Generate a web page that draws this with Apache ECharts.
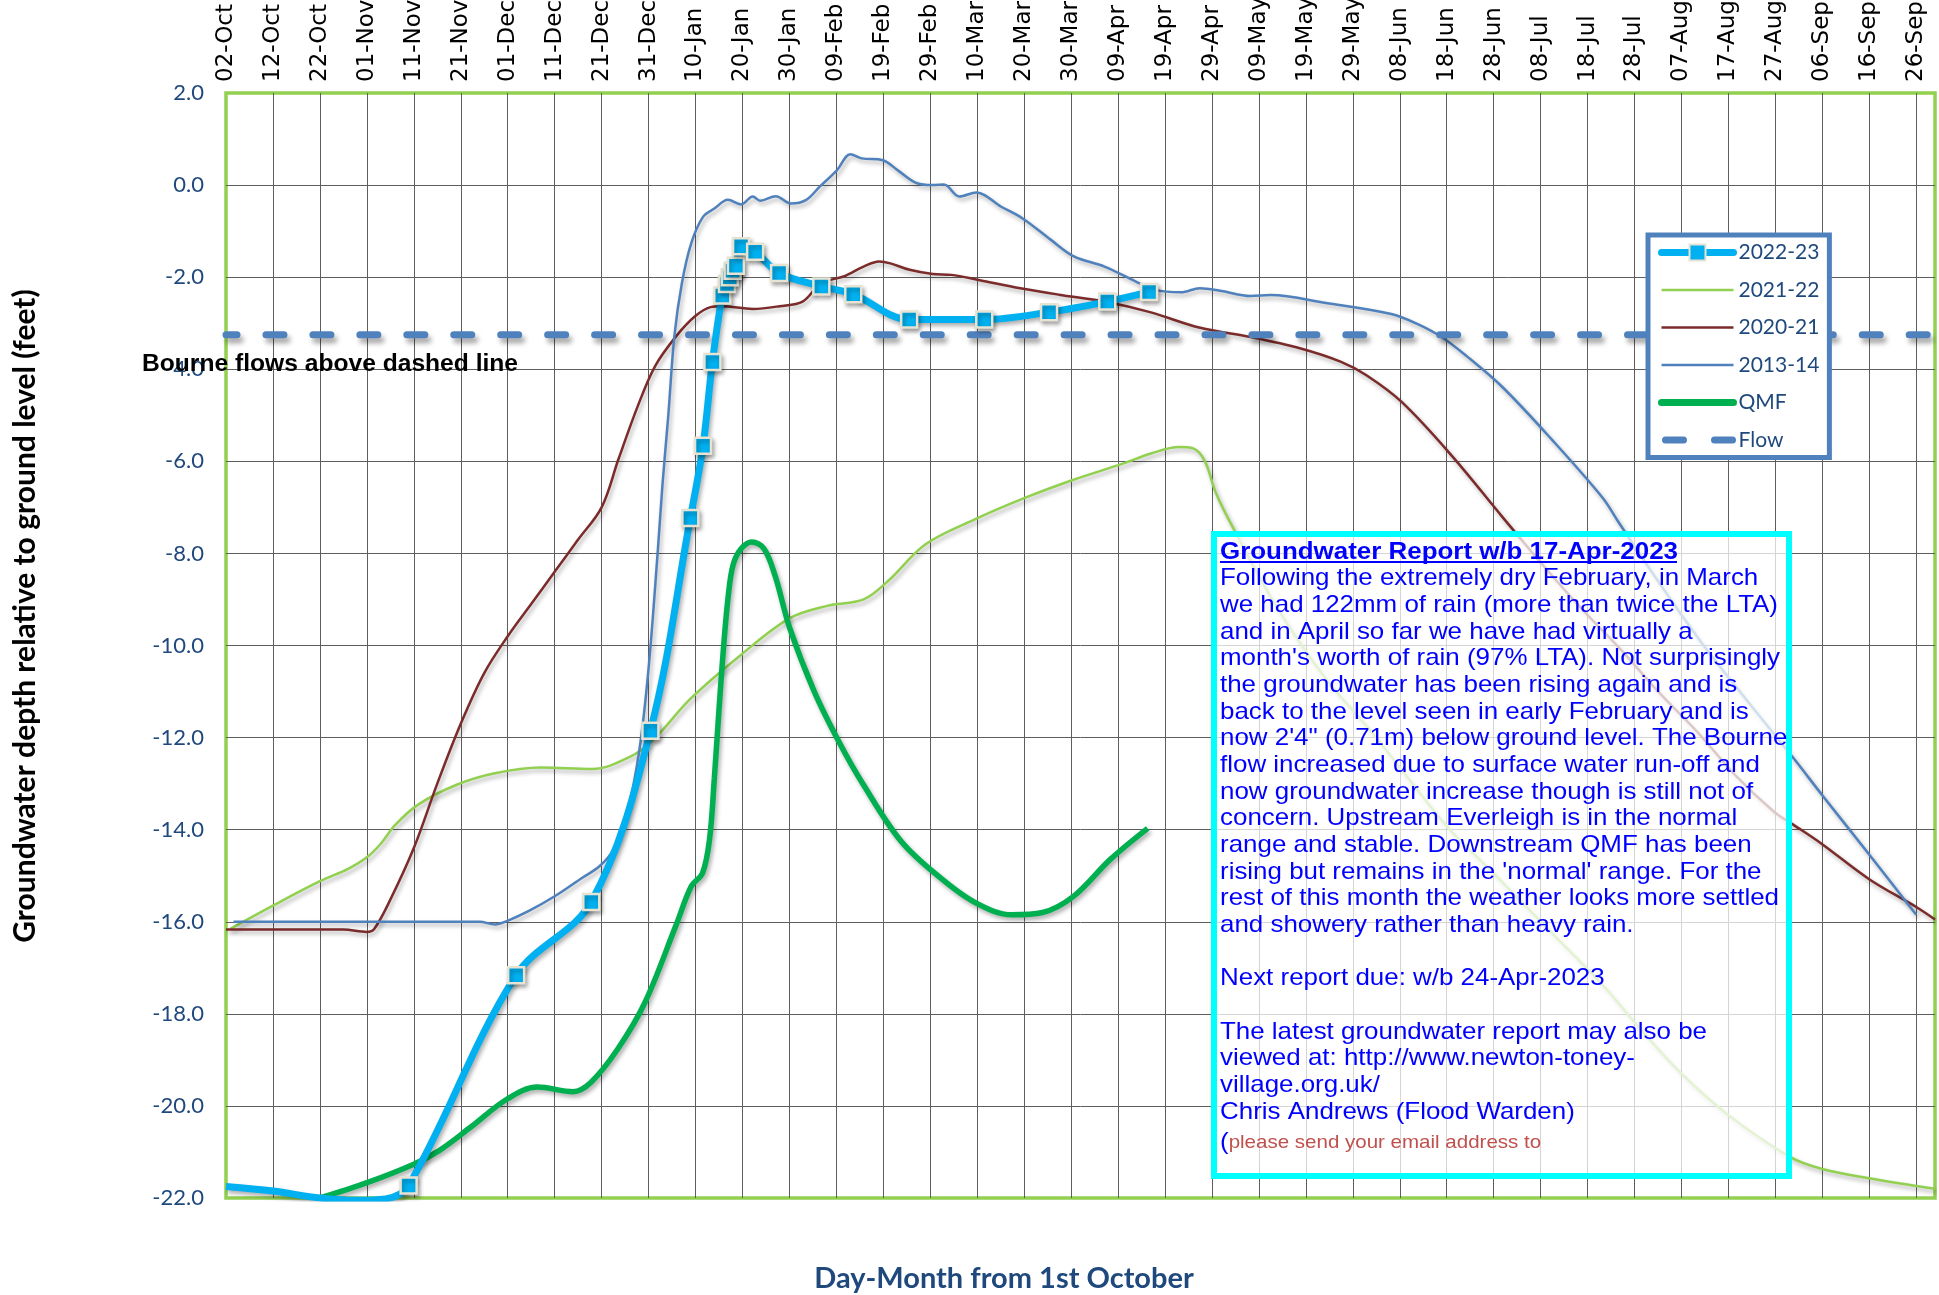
<!DOCTYPE html>
<html><head><meta charset="utf-8">
<script src="https://cdn.jsdelivr.net/npm/echarts@6/dist/echarts.min.js"></script>
<style>html,body{margin:0;padding:0;background:#fff}#c{width:1939px;height:1295px}</style>
</head><body><div id="c"></div>
<script>
// ---- tick labels (day offsets from 02-Oct, every 10 days) ----
const xTickLabels = ['02-Oct','12-Oct','22-Oct','01-Nov','11-Nov','21-Nov','01-Dec','11-Dec','21-Dec','31-Dec','10-Jan','20-Jan','30-Jan','09-Feb','19-Feb','29-Feb','10-Mar','20-Mar','30-Mar','09-Apr','19-Apr','29-Apr','09-May','19-May','29-May','08-Jun','18-Jun','28-Jun','08-Jul','18-Jul','28-Jul','07-Aug','17-Aug','27-Aug','06-Sep','16-Sep','26-Sep'];
const xMin = 0, xMax = 364, xStep = 10;
const yMin = -22, yMax = 2, yStep = 2;

// ---- Bourne flow threshold ----
const flowDays = [0, 364];
const flowVals = [-3.25, -3.25];

// ---- 2022-23 (lead-in curve without readings, then readings) ----
const s2223LeadDays = [0, 10, 20, 28, 34];
const s2223LeadVals = [-21.75, -21.85, -22.0, -22.05, -22.02];
const s2223Days = [38.9, 61.8, 77.8, 90.4, 98.9, 101.6, 103.6, 105.7, 106.7, 107.3, 107.9, 108.6, 109.7, 112.7, 117.8, 126.8, 133.6, 145.5, 161.5, 175.3, 187.7, 196.6];
const s2223Vals = [-21.73, -17.16, -15.57, -11.85, -7.23, -5.66, -3.84, -2.40, -2.15, -2.0, -1.86, -1.75, -1.33, -1.45, -1.91, -2.20, -2.37, -2.92, -2.92, -2.76, -2.53, -2.32];

// ---- 2021-22 ----
const s2122Days = [1, 10, 20, 26, 30, 33, 36, 41, 49, 57, 67, 78, 86, 91, 99, 109.6, 120, 128, 135.8, 141, 149, 159.5, 170, 180.5, 191, 197, 203, 206, 208.5, 210.7, 213.5, 223.7, 234.3, 244, 253, 260.4, 271, 281, 293, 301, 310, 320, 333, 340, 350, 364];
const s2122Vals = [-16.15, -15.65, -15.12, -14.85, -14.6, -14.3, -13.9, -13.45, -13.03, -12.78, -12.65, -12.68, -12.42, -12.05, -11.15, -10.21, -9.41, -9.14, -9.0, -8.6, -7.8, -7.26, -6.8, -6.4, -6.05, -5.83, -5.69, -5.72, -6.0, -6.65, -7.25, -9.15, -10.73, -11.88, -13.04, -13.97, -15.05, -16.1, -17.35, -18.3, -19.3, -20.2, -21.1, -21.37, -21.57, -21.8];

// ---- 2020-21 ----
const s2021Days = [0, 25, 30, 31.6, 35, 40, 45, 50, 55, 60, 65, 70, 75, 80, 83.6, 87.7, 91.4, 95.9, 99.9, 103.2, 105.6, 112.2, 117.9, 122.8, 126.8, 131.7, 135.8, 139.1, 141.5, 145.6, 150.5, 154.5, 160.3, 169.2, 177.4, 187.1, 196.8, 207.5, 218.2, 228.9, 237.5, 242.9, 250.4, 261.1, 271.8, 280.8, 288.9, 297.1, 305.2, 313.4, 321.5, 329.7, 333.8, 339.9, 349.9, 360, 364];
const s2021Vals = [-16.17, -16.17, -16.22, -16.15, -15.52, -14.4, -13.0, -11.7, -10.6, -9.8, -9.1, -8.4, -7.7, -7.0, -5.95, -4.8, -3.93, -3.28, -2.85, -2.65, -2.63, -2.69, -2.63, -2.53, -2.13, -1.98, -1.77, -1.66, -1.70, -1.84, -1.93, -1.95, -2.06, -2.24, -2.38, -2.53, -2.76, -3.1, -3.3, -3.55, -3.84, -4.13, -4.71, -5.88, -7.2, -8.29, -9.22, -10.09, -11.02, -11.88, -12.82, -13.61, -13.89, -14.31, -15.07, -15.68, -15.95];

// ---- 2013-14 ----
const s1314Days = [1.6, 54, 57.3, 59.7, 64.4, 70.1, 75.8, 79.6, 82.5, 85.5, 88, 90, 92, 93, 94.2, 95.5, 97.1, 99.1, 101.6, 104, 106.9, 109.7, 112.2, 113.8, 117.1, 120.3, 123.6, 126.4, 130.1, 133, 135.4, 139.9, 143.1, 147.2, 150.5, 152.9, 156.2, 159.8, 165.1, 169.6, 175.7, 180.6, 187.1, 193.7, 197.7, 203.4, 207.4, 212, 218.2, 222.5, 234.3, 248.2, 253.6, 258.9, 264.3, 271.8, 282.5, 293.2, 296.4, 305, 314, 324, 333.8, 339.9, 349.9, 360];
const s1314Vals = [-16.0, -16.0, -16.06, -15.99, -15.77, -15.44, -15.05, -14.79, -14.43, -13.6, -12.3, -10.5, -7.9, -6.46, -5.01, -3.28, -2.13, -1.26, -0.69, -0.51, -0.32, -0.42, -0.25, -0.34, -0.24, -0.40, -0.32, -0.04, 0.32, 0.67, 0.58, 0.54, 0.32, 0.04, 0.0, 0.01, -0.25, -0.16, -0.47, -0.72, -1.19, -1.55, -1.77, -2.09, -2.27, -2.33, -2.24, -2.30, -2.41, -2.39, -2.56, -2.80, -3.01, -3.30, -3.72, -4.38, -5.54, -6.79, -7.29, -8.6, -9.9, -11.2, -12.44, -13.24, -14.53, -15.85];

// ---- QMF ----
const qmfDays = [20, 30.2, 40.1, 45.4, 52, 59.9, 66.3, 73.9, 77.7, 83.4, 89.2, 95.8, 99.1, 101.5, 103, 104, 105, 106, 107, 108, 109.7, 112, 114.6, 117, 120, 125.3, 130.6, 135.8, 143.7, 151.6, 159.5, 167.4, 173.9, 180.5, 188.4, 196.3];
const qmfVals = [-22.0, -21.66, -21.26, -20.97, -20.47, -19.85, -19.59, -19.69, -19.49, -18.77, -17.76, -16.09, -15.23, -14.94, -14.2, -12.9, -11.4, -10.0, -8.9, -8.25, -7.9, -7.75, -7.9, -8.5, -9.6, -11.0, -12.1, -13.03, -14.24, -15.0, -15.58, -15.85, -15.8, -15.45, -14.64, -13.97];

// ---- text ----
const seriesNames = ['2022-23', '2021-22', '2020-21', '2013-14', 'QMF', 'Flow'];
const reportTitle = 'Groundwater Report w/b 17-Apr-2023';
const reportLines = [
  'Following the extremely dry February, in March',
  'we had 122mm of rain (more than twice the LTA)',
  'and in April so far we have had virtually a',
  "month's worth of rain (97% LTA). Not surprisingly",
  'the groundwater has been rising again and is',
  'back to the level seen in early February and is',
  'now 2\'4" (0.71m) below ground level. The Bourne',
  'flow increased due to surface water run-off and',
  'now groundwater increase though is still not of',
  'concern. Upstream Everleigh is in the normal',
  "range and stable. Downstream QMF has been",
  "rising but remains in the 'normal' range. For the",
  'rest of this month the weather looks more settled',
  'and showery rather than heavy rain.',
  '',
  'Next report due: w/b 24-Apr-2023',
  '',
  'The latest groundwater report may also be',
  'viewed at: http://www.newton-toney-',
  'village.org.uk/',
  'Chris Andrews (Flood Warden)'
];
const emailLine = 'please send your email address to';

function pairs(d, v) { return d.map((x, i) => [x, v[i]]); }

const shadow = { shadowColor: 'rgba(0,0,0,0.32)', shadowBlur: 4, shadowOffsetX: 2, shadowOffsetY: 3 };

const data2223 = s2223LeadDays.map((x, i) => ({ value: [x, s2223LeadVals[i]], symbol: 'none' }))
  .concat(pairs(s2223Days, s2223Vals));

function lineSeries(name, d, v, color, width, z, extra) {
  return Object.assign({
    name: name, type: 'line', data: pairs(d, v), symbol: 'none', smooth: 0.35, z: z,
    lineStyle: Object.assign({ color: color, width: width }, shadow),
    itemStyle: { color: color }, emphasis: { disabled: true }, animation: false
  }, extra || {});
}

const flowLineStyle = { color: '#4F81BD', width: 7, type: [18, 28.95], dashOffset: 7, cap: 'round',
  shadowColor: 'rgba(0,0,0,0.35)', shadowBlur: 5, shadowOffsetX: 3, shadowOffsetY: 5 };

const series = [
  lineSeries('2021-22', s2122Days, s2122Vals, '#92D050', 2.5, 2),
  lineSeries('2020-21', s2021Days, s2021Vals, '#7A2B2A', 2.5, 2),
  lineSeries('2013-14', s1314Days, s1314Vals, '#4F81BD', 2.5, 2),
  lineSeries('QMF', qmfDays, qmfVals, '#00B050', 5.5, 3),
  {
    name: 'Flow', type: 'line', data: pairs(flowDays, flowVals), symbol: 'none', z: 3, animation: false,
    lineStyle: flowLineStyle,
    itemStyle: { color: '#4F81BD' }, emphasis: { disabled: true }
  },
  {
    name: '2022-23', type: 'line', data: data2223, symbol: 'rect', symbolSize: 16, showSymbol: true, smooth: 0.35, z: 5,
    animation: false,
    lineStyle: Object.assign({ color: '#00B0F0', width: 7 }, shadow),
    itemStyle: Object.assign({ color: '#00B0F0', borderColor: '#E6E3D3', borderWidth: 2.5 }, shadow),
    emphasis: { disabled: true }
  }
];

const legendLine = {
  '2022-23': { color: '#00B0F0', width: 7, cap: 'round' },
  '2021-22': { color: '#92D050', width: 2.5 },
  '2020-21': { color: '#7A2B2A', width: 2.5 },
  '2013-14': { color: '#4F81BD', width: 2.5 },
  'QMF': { color: '#00B050', width: 7, cap: 'round' },
  'Flow': { color: '#4F81BD', width: 7, type: [18, 31], dashOffset: -4, cap: 'round' }
};

const textFill = '#0000FF';
const graphics = [
  { type: 'rect', z: 100, shape: { x: 1214, y: 534, width: 575, height: 642 },
    style: { fill: 'rgba(255,255,255,0.74)', stroke: '#00FFFF', lineWidth: 6 } },
  { type: 'text', z: 101, x: 1220, y: 552, scaleX: 1.08,
    style: { text: reportTitle, fill: textFill, font: 'bold 24px "Liberation Sans", Arial', align: 'left', verticalAlign: 'middle' } },
  { type: 'line', z: 101, shape: { x1: 1220, y1: 562, x2: 1677, y2: 562 }, style: { stroke: textFill, lineWidth: 2 } }
];
reportLines.forEach((t, i) => {
  if (!t) return;
  graphics.push({ type: 'text', z: 101, x: 1220, y: 552 + (i + 1) * 26.67, scaleX: 1.08,
    style: { text: t, fill: textFill, font: '24px "Liberation Sans", Arial', align: 'left', verticalAlign: 'middle' } });
});
graphics.push({ type: 'text', z: 101, x: 1220, y: 552 + (reportLines.length + 1) * 26.67 + 4, scaleX: 1.08,
  style: { text: '{a|(}{b|' + emailLine + '}', align: 'left', verticalAlign: 'middle',
    rich: { a: { fill: textFill, font: '24px "Liberation Sans", Arial' }, b: { fill: '#C0504D', font: '19px "Liberation Sans", Arial' } } } });
graphics.push({ type: 'text', z: 90, x: 142, y: 365, scaleX: 1.07,
  style: { text: 'Bourne flows above dashed line', fill: '#000', font: 'bold 23px "Liberation Sans", Arial', align: 'left', verticalAlign: 'middle' } });
graphics.push({ type: 'text', z: 90, x: 25, y: 616, rotation: Math.PI / 2,
  style: { text: 'Groundwater depth relative to ground level (feet)', fill: '#000', font: 'bold 30px Lato', align: 'center', verticalAlign: 'middle' } });
graphics.push({ type: 'text', z: 90, x: 1004, y: 1279,
  style: { text: 'Day-Month from 1st October', fill: '#1F497D', font: 'bold 29px Lato', align: 'center', verticalAlign: 'middle' } });

const chart = echarts.init(document.getElementById('c'), null, { renderer: 'canvas' });
chart.setOption({
  animation: false,
  backgroundColor: '#fff',
  grid: { left: 226, right: 4, top: 93, bottom: 97, show: true, borderColor: '#92D050', borderWidth: 3.5,
    backgroundColor: 'transparent', containLabel: false, outerBoundsMode: 'none' },
  xAxis: {
    type: 'value', position: 'top', min: xMin, max: xMax, interval: xStep,
    axisLine: { show: false }, axisTick: { show: false },
    splitLine: { show: true, showMinLine: false, showMaxLine: false, lineStyle: { color: '#5e5e5e', width: 1 } },
    axisLabel: { rotate: 90, margin: 11, color: '#000', fontFamily: 'DejaVu Sans', fontSize: 23,
      formatter: v => (v % xStep === 0 ? (xTickLabels[v / xStep] || '') : '') }
  },
  yAxis: {
    type: 'value', min: yMin, max: yMax, interval: yStep,
    axisLine: { show: false }, axisTick: { show: false },
    splitLine: { show: true, showMinLine: false, showMaxLine: false, lineStyle: { color: '#5e5e5e', width: 1 } },
    axisLabel: { margin: 22, color: '#1F497D', fontFamily: 'Lato', fontSize: 22, formatter: v => v.toFixed(1) }
  },
  legend: {
    data: seriesNames.map(n => n === '2022-23'
      ? { name: n, lineStyle: legendLine[n] }
      : { name: n, itemStyle: { opacity: 0 }, lineStyle: legendLine[n] }),
    orient: 'vertical', left: 1648, top: 235, itemWidth: 72, itemHeight: 20, itemGap: 16.5,
    padding: [7, 10, 7, 10], backgroundColor: '#fff', borderColor: '#4F81BD', borderWidth: 5,
    textStyle: { color: '#1F497D', fontFamily: 'Lato', fontSize: 21 }, selectedMode: false, z: 50
  },
  series: series,
  graphic: graphics
});
</script></body></html>
